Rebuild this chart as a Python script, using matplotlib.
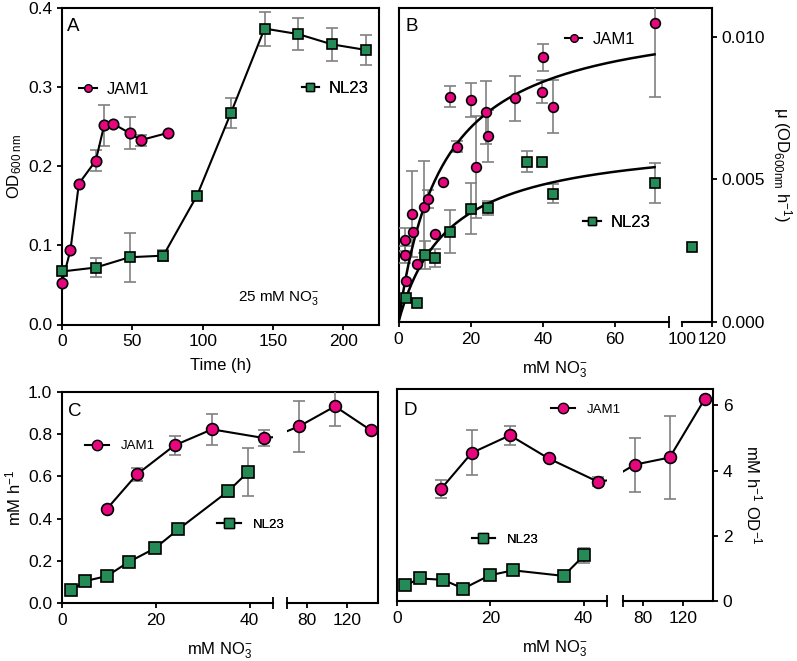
import numpy as np
import matplotlib
matplotlib.use('Agg')
import matplotlib.pyplot as plt
from matplotlib.lines import Line2D

plt.rcParams['font.family'] = ['Liberation Sans', 'DejaVu Sans']
plt.rcParams['mathtext.fontset'] = 'custom'
plt.rcParams['mathtext.rm'] = 'Liberation Sans'
plt.rcParams['mathtext.it'] = 'Liberation Sans:italic'
plt.rcParams['mathtext.default'] = 'regular'

# ---- panel A: growth curves, 25 mM nitrate
a_jam_t = [0, 6, 12, 24, 30, 36, 48, 56, 75]
a_jam_od = [0.053, 0.094, 0.178, 0.207, 0.252, 0.254, 0.242, 0.233, 0.242]
a_jam_err = [0, 0, 0, 0.0135, 0.026, 0, 0.02, 0.007, 0]
a_nl_t = [0, 24, 48, 72, 96, 120, 144, 168, 192, 216]
a_nl_od = [0.067, 0.072, 0.085, 0.087, 0.163, 0.267, 0.374, 0.367, 0.354, 0.347]
a_nl_err = [0, 0.0115, 0.031, 0.007, 0, 0.019, 0.0215, 0.0205, 0.021, 0.019]

# ---- panel B: growth rate vs nitrate
b_jam_no3 = [1.9, 1.9, 2.1, 3.7, 4.1, 5.1, 7.2, 8.2, 10.1, 12.2, 14.4, 16.1, 20.0,
             21.4, 24.2, 24.9, 32.2, 39.8, 40.2, 42.7, 71.0]
b_jam_mu = [0.00288, 0.00235, 0.00144, 0.00378, 0.00317, 0.00204, 0.00403, 0.00431,
            0.00308, 0.0049, 0.00789, 0.00614, 0.00777, 0.00543, 0.00735, 0.00651,
            0.00783, 0.00807, 0.00927, 0.00754, 0.01047]
b_jam_err = [0.0004, 0.0003, 0, 0.0015, 0, 0, 0.0016, 0.0003, 0, 0, 0.00037, 0.0002,
             0.0006, 0.0018, 0.0011, 0.0009, 0.0008, 0.0004, 0.00047, 0.00093, 0.0026]
b_nl_no3 = [2.1, 5.1, 7.4, 10.1, 14.3, 20.2, 24.9, 35.6, 39.8, 42.7, 71.0, 106.5]
b_nl_mu = [0.00085, 0.00068, 0.00235, 0.00224, 0.00317, 0.00397, 0.0040, 0.00561,
           0.00561, 0.00449, 0.00488, 0.00261]
b_nl_err = [0, 0, 0.0005, 0.0003, 0.00075, 0.0009, 0.00025, 0.00037, 0, 0.00033, 0.0007, 0]
# Michaelis-Menten fit parameters (Vmax, Km)
jam_fit = (0.0110, 12.3)
nl_fit = (0.00649, 13.95)
fit_end = 71.0

# ---- panel C: nitrate reduction rate
c_jam_no3 = [9.5, 16, 24, 32, 43, 72, 108, 144]
c_jam_rate = [0.444, 0.610, 0.747, 0.823, 0.782, 0.837, 0.932, 0.818]
c_jam_err = [0, 0.03, 0.045, 0.073, 0.037, 0.12, 0.095, 0]
c_nl_no3 = [1.9, 5.0, 9.6, 14.2, 19.8, 24.8, 35.4, 39.7]
c_nl_rate = [0.060, 0.104, 0.128, 0.194, 0.259, 0.349, 0.529, 0.621]
c_nl_err = [0, 0, 0, 0, 0, 0, 0.025, 0.115]

# ---- panel D: specific nitrate reduction rate
d_jam_no3 = [9.4, 16.0, 24.2, 32.5, 43.0, 71.7, 106.7, 141.7]
d_jam_rate = [3.43, 4.54, 5.08, 4.37, 3.66, 4.18, 4.40, 6.19]
d_jam_err = [0.27, 0.69, 0.3, 0, 0.13, 0.83, 1.27, 0]
d_nl_no3 = [1.8, 4.9, 9.9, 14.2, 19.9, 24.9, 35.7, 40.1]
d_nl_rate = [0.48, 0.69, 0.65, 0.38, 0.79, 0.94, 0.77, 1.40]
d_nl_err = [0, 0, 0, 0, 0, 0, 0, 0.23]

PINK = '#E6077F'
GREEN = '#248A56'
GREY = '#808080'
FS = 12.5

W, H = 797, 661
fig = plt.figure(figsize=(W / 100, H / 100), dpi=100)


def box(l, r, t, b):
    return [l / W, 1 - b / H, (r - l) / W, (b - t) / H]


def series(ax, x, y, err, color, marker, ms, line=True):
    x, y, err = np.asarray(x), np.asarray(y), np.asarray(err)
    m = err > 0
    ax.errorbar(x[m], y[m], yerr=err[m], fmt='none', ecolor=GREY, elinewidth=1.2,
                capsize=4, capthick=1.2, zorder=2)
    ax.plot(x, y, linestyle='-' if line else 'none', color='k', lw=1.5, marker=marker,
            ms=ms, mfc=color, mec='k', mew=1.2, zorder=3)


def key(ax, label, color, marker, ms, x, y, fs, hl, pad):
    h = Line2D([], [], color='k', lw=1.5, marker=marker, ms=ms, mfc=color, mec='k', mew=1.0)
    leg = ax.legend([h], [label], loc='center left', bbox_to_anchor=(x, y), frameon=False,
                    fontsize=fs, handlelength=hl, handletextpad=pad, borderpad=0,
                    borderaxespad=0)
    ax.add_artist(leg)


def style(ax):
    for s in ax.spines.values():
        s.set_linewidth(1.5)
    ax.tick_params(labelsize=FS, width=1.3, length=3.5, direction='out')


def frame(rect, ylim, yticks, fmt, right):
    ax = fig.add_axes(rect)
    style(ax)
    ax.spines['bottom'].set_visible(False)
    ax.set_xticks([])
    ax.set_ylim(*ylim)
    ax.set_yticks(yticks)
    ax.set_yticklabels([fmt % v for v in yticks])
    if right:
        ax.yaxis.tick_right()
        ax.yaxis.set_label_position('right')
    return ax


def segment(rect, xlim, ylim, xticks, end):
    ax = fig.add_axes(rect)
    ax.patch.set_alpha(0)
    style(ax)
    for s in ['top', 'left', 'right']:
        ax.spines[s].set_visible(False)
    ax.set_yticks([])
    ax.set_xlim(*xlim)
    ax.set_ylim(*ylim)
    ax.set_xticks(xticks)
    ax.set_xticks([end], minor=True)
    ax.tick_params(which='minor', direction='inout', length=8, width=1.3)
    return ax


# ================= A
axA = fig.add_axes(box(62, 378.5, 8, 324.5))
style(axA)
axA.set_xlim(0, 225)
axA.set_ylim(0, 0.4)
axA.set_xticks([0, 50, 100, 150, 200])
axA.set_yticks([0, 0.1, 0.2, 0.3, 0.4])
axA.set_yticklabels(['%.1f' % v for v in [0, 0.1, 0.2, 0.3, 0.4]])
series(axA, a_jam_t, a_jam_od, a_jam_err, PINK, 'o', 7.5)
series(axA, a_nl_t, a_nl_od, a_nl_err, GREEN, 's', 7.5)
for ln in axA.lines:
    ln.set_clip_on(False)
axA.set_xlabel('Time (h)', fontsize=12, labelpad=6)
axA.set_ylabel('OD$_{600\\ nm}$', fontsize=12, labelpad=3)
axA.text(0.015, 0.968, 'A', transform=axA.transAxes, fontsize=13.5, ha='left', va='top')
axA.text(0.555, 0.085, '25 mM NO$_3^{-}$', transform=axA.transAxes, fontsize=11, ha='left',
         va='center')
key(axA, 'JAM1', PINK, 'o', 5.5, 0.055, 0.744, 12, 1.05, 0.6)
key(axA, 'NL23', GREEN, 's', 5.5, 0.757, 0.747, 12, 1.05, 0.6)

# ================= B
fB = frame(box(398.5, 712, 8, 322), (0, 0.011), [0, 0.005, 0.010], '%.3f', True)
bL = segment(box(398.5, 669, 8, 322), (0, 75), (0, 0.011), [0, 20, 40, 60], 75)
bR = segment(box(681.7, 712, 8, 322), (100, 120), (0, 0.011), [100, 120], 100)
for ax in (bL, bR):
    series(ax, b_jam_no3, b_jam_mu, b_jam_err, PINK, 'o', 7, line=False)
    series(ax, b_nl_no3, b_nl_mu, b_nl_err, GREEN, 's', 7, line=False)
xs = np.linspace(0, fit_end, 200)
for vmax, km in (jam_fit, nl_fit):
    bL.plot(xs, vmax * xs / (km + xs), color='k', lw=1.8, zorder=2.5)
fB.set_xlabel('mM NO$_3^{-}$', fontsize=12, labelpad=27)
fB.set_ylabel('μ (OD$_{600nm}$ h$^{-1}$)', fontsize=12, rotation=270, va='bottom', labelpad=4)
fB.text(0.021, 0.967, 'B', transform=fB.transAxes, fontsize=13.5, ha='left', va='top')
key(fB, 'JAM1', PINK, 'o', 5.5, 0.531, 0.901, 12, 1.05, 0.6)
key(fB, 'NL23', GREEN, 's', 5.5, 0.589, 0.316, 12, 1.05, 0.6)

# ================= C
fC = frame(box(62, 378, 392, 603), (0, 1.0), [0, 0.2, 0.4, 0.6, 0.8, 1.0], '%.1f', False)
cL = segment(box(62, 273, 392, 603), (0, 45), (0, 1.0), [0, 20, 40], 45)
cR = segment(box(287, 378, 392, 603), (60, 151), (0, 1.0), [80, 120], 60)
for ax in (cL, cR):
    series(ax, c_jam_no3, c_jam_rate, c_jam_err, PINK, 'o', 8.5)
    series(ax, c_nl_no3, c_nl_rate, c_nl_err, GREEN, 's', 8)
fC.set_xlabel('mM NO$_3^{-}$', fontsize=12, labelpad=27)
fC.set_ylabel('mM h$^{-1}$', fontsize=12, labelpad=3)
fC.text(0.02, 0.946, 'C', transform=fC.transAxes, fontsize=13.5, ha='left', va='top')
key(fC, 'JAM1', PINK, 'o', 7.5, 0.073, 0.744, 9.5, 1.8, 0.9)
key(fC, 'NL23', GREEN, 's', 7.5, 0.49, 0.37, 9.5, 1.8, 0.9)

# ================= D
fD = frame(box(397, 713, 389, 601), (0, 6.5), [0, 2, 4, 6], '%d', True)
dL = segment(box(397, 607, 389, 601), (0, 45), (0, 6.5), [0, 20, 40], 45)
dR = segment(box(623, 713, 389, 601), (60, 150), (0, 6.5), [80, 120], 60)
for ax in (dL, dR):
    series(ax, d_jam_no3, d_jam_rate, d_jam_err, PINK, 'o', 8.5)
    series(ax, d_nl_no3, d_nl_rate, d_nl_err, GREEN, 's', 8)
fD.set_xlabel('mM NO$_3^{-}$', fontsize=12, labelpad=27)
fD.set_ylabel('mM h$^{-1}$ OD$^{-1}$', fontsize=12, rotation=270, va='bottom', labelpad=8)
fD.text(0.02, 0.94, 'D', transform=fD.transAxes, fontsize=13.5, ha='left', va='top')
key(fD, 'JAM1', PINK, 'o', 7.5, 0.487, 0.901, 9.5, 1.8, 0.9)
key(fD, 'NL23', GREEN, 's', 7.5, 0.236, 0.288, 9.5, 1.8, 0.9)

fig.savefig('out.png', dpi=100)
